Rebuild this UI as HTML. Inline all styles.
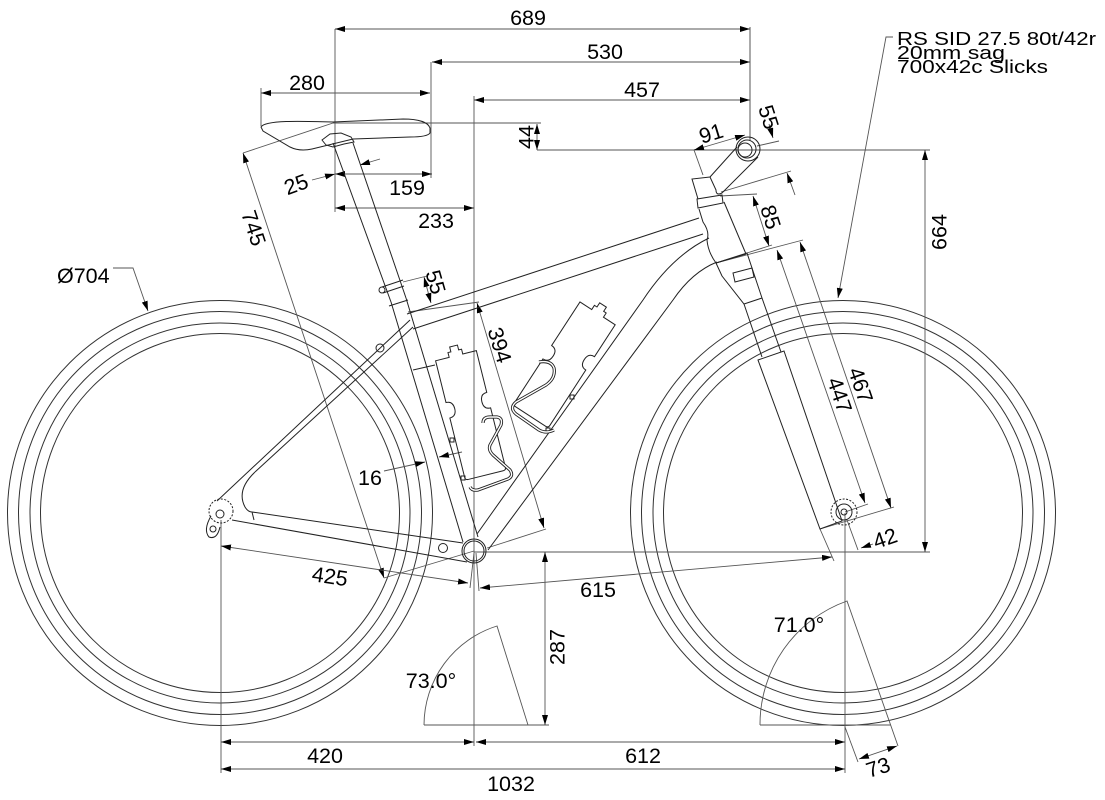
<!DOCTYPE html>
<html>
<head>
<meta charset="utf-8">
<style>
html,body{margin:0;padding:0;background:#fff}
svg{display:block}
text{font-family:"Liberation Sans",Arial,sans-serif;font-size:21.5px;fill:#000}
.b{marker-start:url(#ar);marker-end:url(#ar)}
.e{marker-end:url(#ar)}
</style>
</head>
<body>
<svg width="1105" height="800" viewBox="0 0 1105 800" xmlns="http://www.w3.org/2000/svg">
<defs>
  <marker id="ar" viewBox="0 0 10 6" refX="10" refY="3" markerWidth="10" markerHeight="6" markerUnits="userSpaceOnUse" orient="auto-start-reverse">
    <path d="M0,0 L10,3 L0,6 Z" fill="#000"/>
  </marker>
  <path id="cageA" d="M 483,423 Q 483,417 490,417 L 497,417 Q 503,418 501,425 L 490,445 Q 488,450 493,455 L 510,470 Q 514,476 508,479 L 478,490 Q 472,491 470,487"/>
  <path id="cageB" d="M 539,362 Q 551,360 554,368 Q 556,378 546,385 L 516,402 Q 509,408 516,414 L 539,430 Q 546,434 554,430"/>
</defs>
<rect width="1105" height="800" fill="#fff"/>

<g fill="none" stroke="#333" stroke-width="1">
  <circle cx="220" cy="513" r="212.5"/>
  <circle cx="220" cy="513" r="201.5"/>
  <circle cx="220" cy="513" r="190"/>
  <circle cx="220" cy="513" r="179.5"/>
  <circle cx="843" cy="513" r="212.5"/>
  <circle cx="843" cy="513" r="201.5"/>
  <circle cx="843" cy="513" r="190"/>
  <circle cx="843" cy="513" r="179.5"/>
</g>

<g fill="none" stroke="#aaa" stroke-width="2">
  <line x1="750" y1="27" x2="750" y2="140"/>
  <line x1="537" y1="150" x2="930" y2="150"/>
</g>

<!-- extension lines -->
<g fill="none" stroke="#555" stroke-width="0.9">
  <line x1="335" y1="29" x2="335" y2="212"/>
  <line x1="431" y1="62" x2="431" y2="178"/>
  <line x1="261" y1="88" x2="261" y2="126"/>
  <line x1="474" y1="96" x2="474" y2="746"/>
  <line x1="333" y1="123" x2="541" y2="123"/>
  <line x1="474" y1="552" x2="930" y2="552"/>
  <line x1="424" y1="725" x2="549" y2="725"/>
  <line x1="221" y1="520" x2="221" y2="773"/>
  <line x1="845" y1="513" x2="845" y2="773"/>
  <path d="M 424,725 A 104 104 0 0 1 497,626 L 528,725"/>
  <path d="M 760,725 A 131 131 0 0 1 847,601 L 898,746"/>
  <line x1="760" y1="725" x2="891" y2="725"/>
  <line x1="845" y1="727" x2="858" y2="762"/>
  <line x1="333" y1="123" x2="243" y2="153"/>
  <line x1="384" y1="578" x2="474" y2="551"/>
  <line x1="474" y1="553" x2="470" y2="588"/>
  <line x1="476" y1="553" x2="479" y2="591"/>
  <line x1="820" y1="529" x2="834" y2="561"/>
  <line x1="408" y1="312" x2="479" y2="302"/>
  <line x1="546" y1="529" x2="487" y2="548"/>
  <line x1="403" y1="282" x2="427" y2="276"/>
  <line x1="716" y1="263" x2="803" y2="240"/>
  <line x1="820" y1="529" x2="894" y2="507"/>
  <line x1="845" y1="512" x2="868" y2="504"/>
  <line x1="720" y1="196" x2="757" y2="194"/>
  <line x1="747" y1="253" x2="772" y2="245"/>
  <line x1="694" y1="150" x2="703" y2="175"/>
  <line x1="757" y1="146" x2="779" y2="141"/>
  <line x1="721" y1="192" x2="791" y2="171"/>
  <line x1="847" y1="520" x2="858" y2="550"/>
</g>

<!-- dimension lines with arrows -->
<g fill="none" stroke="#555" stroke-width="0.9">
  <line class="b" x1="335" y1="29" x2="750" y2="29"/>
  <line class="b" x1="432" y1="62" x2="750" y2="62"/>
  <line class="b" x1="474" y1="100" x2="750" y2="100"/>
  <line class="b" x1="261" y1="93" x2="430" y2="93"/>
  <line class="b" x1="335" y1="174" x2="432" y2="174"/>
  <line class="b" x1="335" y1="208" x2="474" y2="208"/>
  <line class="b" x1="537" y1="124" x2="537" y2="150"/>
  <line class="b" x1="925" y1="150" x2="925" y2="552"/>
  <line class="b" x1="545" y1="552" x2="545" y2="725"/>
  <line class="b" x1="221" y1="742" x2="474" y2="742"/>
  <line class="b" x1="476" y1="742" x2="845" y2="742"/>
  <line class="b" x1="221" y1="769" x2="845" y2="769"/>
  <line class="b" x1="243" y1="153" x2="384" y2="578"/>
  <line class="b" x1="221" y1="546" x2="468" y2="583"/>
  <line class="b" x1="480" y1="588" x2="832" y2="557"/>
  <line class="b" x1="477" y1="303" x2="544" y2="528"/>
  <line class="b" x1="424" y1="277" x2="431" y2="303"/>
  <line class="b" x1="800" y1="242" x2="891" y2="508"/>
  <line class="b" x1="777" y1="250" x2="865" y2="503"/>
  <line class="b" x1="753" y1="196" x2="769" y2="246"/>
  <line class="b" x1="694" y1="150" x2="745" y2="135"/>
  <line class="b" x1="859" y1="759" x2="897" y2="746"/>
  <line class="e" x1="769" y1="124" x2="773" y2="138"/>
  <line class="e" x1="795" y1="195" x2="787" y2="173"/>
  <line class="e" x1="873" y1="544" x2="861" y2="548"/>
  <line class="e" x1="384" y1="471" x2="425" y2="462"/>
  <line class="e" x1="462" y1="452" x2="439" y2="457"/>
  <line class="e" x1="312" y1="180" x2="335" y2="174"/>
  <line class="e" x1="380" y1="159" x2="360" y2="165"/>
  <polyline class="e" points="113,268 133,268 148,311"/>
  <polyline class="e" points="893,37 886,37 838,298"/>
</g>

<!-- frame -->
<g fill="none" stroke="#222" stroke-width="1">
  <path d="M 261,127 C 265,120 300,121 333,122 L 403,119 C 418,119 428,122 430,128 L 430,133 C 428,136 420,137 410,137 L 353,139 L 312,149 C 303,151 296,150 290,147 L 263,131 Z"/>
  <path d="M 322,140 L 330,134 L 341,133 L 351,137 L 354,142 L 344,144 L 333,147 L 326,145 Z"/>
  <line x1="333" y1="143" x2="391" y2="302"/>
  <line x1="353" y1="143" x2="406" y2="298"/>
  <line x1="382" y1="287" x2="403" y2="280"/>
  <line x1="383" y1="293" x2="404" y2="286"/>
  <circle cx="382" cy="290" r="3"/>
  <line x1="391" y1="302" x2="463" y2="542"/>
  <line x1="406" y1="298" x2="478" y2="537"/>
  <line x1="389" y1="306" x2="408" y2="300"/>
  <line x1="413" y1="370" x2="435" y2="365"/>
  <line x1="407" y1="314" x2="699" y2="218"/>
  <line x1="413" y1="329" x2="703" y2="234"/>
  <path d="M 699,209 L 703,222 Q 710,232 707,240 Q 708,252 716,263"/>
  <line x1="724" y1="202" x2="746" y2="254"/>
  <line x1="716" y1="263" x2="746" y2="254"/>
  <path d="M 697,199 L 722,195 L 723,203 L 698,208 Z"/>
  <polyline points="698,199 692,179 710,177"/>
  <line x1="737" y1="147" x2="710" y2="177"/>
  <path d="M 758,157 L 722,193 Q 716,196 716,190 L 710,177"/>
  <circle cx="748" cy="149" r="12"/>
  <circle cx="747" cy="149" r="9"/>
  <circle cx="745" cy="150" r="7"/>
  <path d="M 477,534 L 643,300 Q 672,256 709,238"/>
  <path d="M 488,550 L 673,300 Q 692,272 717,262"/>
  <path d="M 716,263 L 747,253 L 762,298 L 744,304 L 722,276 Z"/>
  <path d="M 733,273 L 752,268 L 754,277 L 735,282 Z"/>
  <line x1="744" y1="304" x2="762" y2="357"/>
  <line x1="762" y1="298" x2="781" y2="352"/>
  <path d="M 758,360 L 784,351 L 842,521 L 820,529 Z"/>
  <circle cx="844" cy="512" r="13" stroke-dasharray="2 1.5"/>
  <circle cx="844" cy="512" r="8"/>
  <circle cx="844" cy="512" r="3"/>
  <line x1="252" y1="512" x2="463" y2="543"/>
  <line x1="232" y1="520" x2="467" y2="562"/>
  <circle cx="443" cy="548" r="4.5"/>
  <line x1="217" y1="501" x2="410" y2="320"/>
  <line x1="255" y1="472" x2="413" y2="327"/>
  <path d="M 255,472 Q 236,490 245,507 Q 248,512 252,512 L 254,520"/>
  <circle cx="380" cy="348" r="4"/>
  <circle cx="221" cy="511" r="12" stroke-dasharray="2 1.5"/>
  <circle cx="220" cy="514" r="4"/>
  <path d="M 211,516 Q 203,530 209,537 Q 217,540 220,527"/>
  <circle cx="213" cy="529" r="3"/>
  <circle cx="474" cy="551" r="12"/>
  <circle cx="474" cy="551" r="10"/>
  <path transform="translate(470,412) rotate(-14)" d="M -21,-58 L -7,-58 L -7,-63 L -4,-63 L -4,-68 L 4,-68 L 4,-63 L 7,-63 L 7,-58 L 21,-58 L 21,-15 Q 14,-15 14,-7 Q 14,1 21,1 L 21,62 Q 21,65 18,65 L -18,65 Q -21,65 -21,62 L -21,1 Q -14,1 -14,-7 Q -14,-15 -21,-15 Z"/>
  <path transform="translate(566,362) rotate(33)" d="M -21,-58 L -7,-58 L -7,-63 L -4,-63 L -4,-68 L 4,-68 L 4,-63 L 7,-63 L 7,-58 L 21,-58 L 21,-20 Q 14,-20 14,-12 Q 14,-4 21,-4 L 21,62 Q 21,65 18,65 L -18,65 Q -21,65 -21,62 L -21,10 Q -14,10 -14,2 Q -14,-6 -21,-6 Z"/>
  <rect x="450" y="438" width="4" height="4"/>
  <rect x="461" y="476" width="4" height="4"/>
  <rect x="570" y="395" width="4" height="4"/>
  <rect x="546" y="428" width="4" height="4"/>
</g>

<g fill="none" stroke="#222" stroke-width="3.2" stroke-linejoin="round">
  <use href="#cageA"/>
  <use href="#cageB"/>
</g>
<g fill="none" stroke="#fff" stroke-width="1.4" stroke-linejoin="round">
  <use href="#cageA"/>
  <use href="#cageB"/>
</g>

<text x="528" y="25" text-anchor="middle">689</text>
<text x="605" y="59" text-anchor="middle">530</text>
<text x="642" y="97" text-anchor="middle">457</text>
<text x="307" y="90" text-anchor="middle">280</text>
<text x="407" y="195" text-anchor="middle">159</text>
<text x="436" y="228" text-anchor="middle">233</text>
<text x="296" y="191.7" text-anchor="middle" transform="rotate(-20 296 184)">25</text>
<text x="526" y="144.7" text-anchor="middle" transform="rotate(-90 526 137)">44</text>
<text x="254" y="235.7" text-anchor="middle" transform="rotate(71.6 254 228)">745</text>
<text x="436" y="289.7" text-anchor="middle" transform="rotate(74 436 282)">55</text>
<text x="500" y="352.7" text-anchor="middle" transform="rotate(73 500 345)">394</text>
<text x="370" y="485" text-anchor="middle">16</text>
<text x="330" y="583.7" text-anchor="middle" transform="rotate(8.5 330 576)">425</text>
<text x="598" y="597" text-anchor="middle">615</text>
<text x="557" y="654.7" text-anchor="middle" transform="rotate(-90 557 647)">287</text>
<text x="431" y="688" text-anchor="middle">73.0°</text>
<text x="325" y="763" text-anchor="middle">420</text>
<text x="643" y="763" text-anchor="middle">612</text>
<text x="511" y="791" text-anchor="middle">1032</text>
<text x="799" y="632" text-anchor="middle">71.0°</text>
<text x="878" y="774.7" text-anchor="middle" transform="rotate(-18 878 767)">73</text>
<text x="861" y="392.7" text-anchor="middle" transform="rotate(71 861 385)">467</text>
<text x="840" y="402.7" text-anchor="middle" transform="rotate(71 840 395)">447</text>
<text x="885" y="545.7" text-anchor="middle" transform="rotate(-19 885 538)">42</text>
<text x="769" y="124.7" text-anchor="middle" transform="rotate(72 769 117)">55</text>
<text x="711" y="140.7" text-anchor="middle" transform="rotate(-17 711 133)">91</text>
<text x="771" y="224.7" text-anchor="middle" transform="rotate(72 771 217)">85</text>
<text x="939" y="239.7" text-anchor="middle" transform="rotate(-90 939 232)">664</text>
<text x="57" y="283">Ø704</text>
<text x="897" y="45" style="font-size:18.5px" textLength="199" lengthAdjust="spacingAndGlyphs">RS SID 27.5 80t/42r</text>
<text x="897" y="59" style="font-size:18.5px" textLength="108" lengthAdjust="spacingAndGlyphs">20mm sag</text>
<text x="897" y="73" style="font-size:18.5px" textLength="151" lengthAdjust="spacingAndGlyphs">700x42c Slicks</text>
</svg>
</body>
</html>
